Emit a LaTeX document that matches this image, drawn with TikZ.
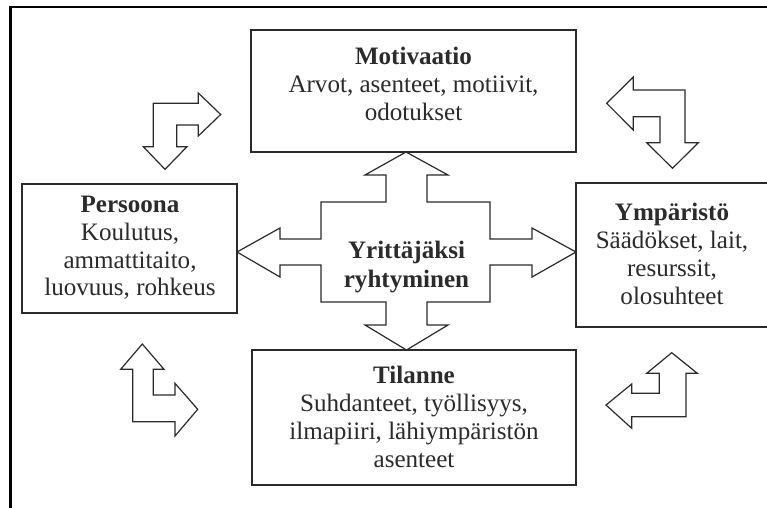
\documentclass[tikz,border=0pt]{standalone}
\usepackage{fontspec}
\setmainfont{Liberation Serif}
\usetikzlibrary{fit}
\definecolor{ink}{HTML}{2B2B2B}
\begin{document}
\begin{tikzpicture}[x=0.75pt,y=-0.75pt,
  panel/.style={draw=ink, line width=1pt, fill=white, inner sep=0pt},
  txt/.style={align=center, inner sep=0pt, text=ink, font=\fontsize{18.8}{20.8}\selectfont},
  hollow/.style={draw=ink, line width=0.9pt, fill=white, line join=miter}
]
\useasboundingbox (0,0) rectangle (767,507);

% outer frame (open on the right and at the bottom)
\coordinate (fb) at (10.3,520);
\coordinate (fc) at (10.3,7);
\coordinate (fr) at (790,7);
\draw[line width=2pt, black] (fb) -- (fc) -- (fr);

% the four factor boxes
\node[panel, fit={(251,30) (576,152)}] (mot) {};
\node[panel, fit={(22,184) (237,313)}] (per) {};
\node[panel, fit={(576,183) (790,327)}] (ymp) {};
\node[panel, fit={(252,350) (576,485)}] (til) {};

% central four-way arrow
\draw[hollow] (406,152) -- (448,175) -- (427,175) -- (427,202) -- (490,202)
  -- (490,239) -- (532,239) -- (532,228) -- (576,252) -- (532,277) -- (532,265)
  -- (490,265) -- (490,302) -- (427,302) -- (427,325) -- (448,325) -- (406.5,350)
  -- (365,325) -- (386,325) -- (386,302) -- (321,302) -- (321,265) -- (280,265)
  -- (280,277) -- (237,252) -- (280,228) -- (280,239) -- (321,239) -- (321,202)
  -- (386,202) -- (386,175) -- (365,175) -- cycle;

% bent arrows in the corners
\draw[hollow] (153.3,103.3) -- (198.3,103.3) -- (198.3,93) -- (220.7,114.5)
  -- (198.3,136) -- (198.3,125) -- (176.7,125) -- (176.7,146.7) -- (187,146.7)
  -- (165,169.3) -- (143.3,146.7) -- (153.3,146.7) -- cycle;
\draw[hollow] (685,90) -- (685,142.7) -- (698.3,142.7) -- (672.5,168.3)
  -- (646.7,142.7) -- (660,142.7) -- (660,116.7) -- (633.3,116.7) -- (633.3,130)
  -- (606.7,103.3) -- (633.3,77) -- (633.3,90) -- cycle;
\draw[hollow] (142.3,344) -- (164,369.3) -- (153.3,369.3) -- (153.3,395)
  -- (175,395) -- (175,383.3) -- (197.7,409.3) -- (175,436) -- (175,421.7)
  -- (132.7,421.7) -- (132.7,369.3) -- (120.7,369.3) -- cycle;
\draw[hollow] (671.7,352.7) -- (697.3,373.3) -- (686,373.3) -- (686,416.7)
  -- (631.7,416.7) -- (631.7,428.3) -- (606,405) -- (631.7,384) -- (631.7,393.3)
  -- (659.3,393.3) -- (659.3,373.3) -- (646.7,373.3) -- cycle;

% texts
\node[txt] (motT) at (413.5,84) {\textbf{Motivaatio}\\Arvot, asenteet, motiivit,\\odotukset};
\node[txt] (perT) at (130,248) {\textbf{Persoona}\\Koulutus,\\ammattitaito,\\luovuus, rohkeus};
\node[txt] (ympT) at (672,254) {\textbf{Ympäristö}\\Säädökset, lait,\\resurssit,\\olosuhteet};
\node[txt] (tilT) at (414,417) {\textbf{Tilanne}\\Suhdanteet, työllisyys,\\ilmapiiri, lähiympäristön\\asenteet};
\node[txt, font=\fontsize{18.8}{21.2}\selectfont\bfseries] (cenT) at (406.5,267) {Yrittäjäksi\\ryhtyminen};
\end{tikzpicture}
\end{document}
